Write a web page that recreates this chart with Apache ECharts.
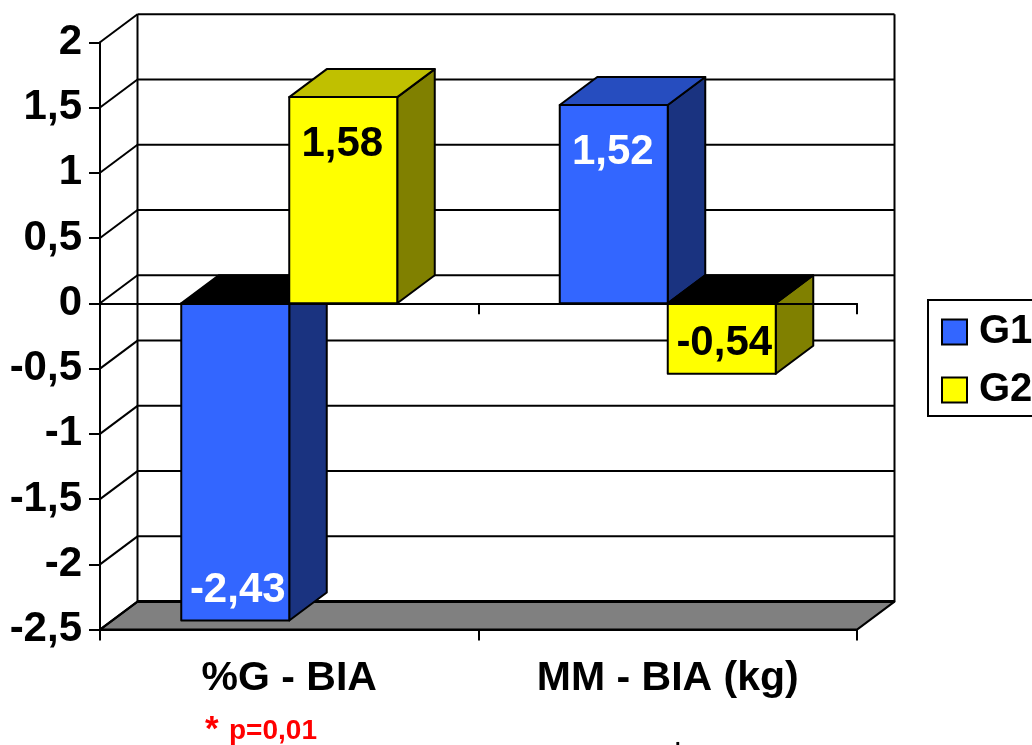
<!DOCTYPE html>
<html>
<head>
<meta charset="utf-8">
<style>
html, body { margin: 0; padding: 0; background: #fff; overflow: hidden; }
#chart { width: 1032px; height: 745px; }
</style>
<script src="https://cdn.jsdelivr.net/npm/echarts@6/dist/echarts.min.js"></script>
</head>
<body>
<div id="chart"></div>
<script>
var categories = ['%G - BIA', 'MM - BIA (kg)'];
var g1Values = [-2.43, 1.52];
var g2Values = [1.58, -0.54];
var yTicks = [-2.5, -2, -1.5, -1, -0.5, 0, 0.5, 1, 1.5, 2];

var FONT = '"Liberation Sans", Arial, sans-serif';
// 3d depth of the excel style box
var DX = 37.5, DY = -28;
var BAR_W = 108;
var BLUE = ['#3366ff', '#1a3380', '#264dbf'];
var YELLOW = ['#ffff00', '#808000', '#c0c000'];

var chart = echarts.init(document.getElementById('chart'));

function comma(v) {
    return String(v).replace('.', ',');
}

function poly(pts, fill) {
    return {
        type: 'polygon',
        shape: { points: pts },
        style: { fill: fill, stroke: '#000', lineWidth: 2, lineJoin: 'round' }
    };
}

function line(x1, y1, x2, y2, lw) {
    return {
        type: 'line',
        shape: { x1: x1, y1: y1, x2: x2, y2: y2 },
        style: { stroke: '#000', lineWidth: lw || 2 }
    };
}

// back wall, left wall and floor, one item per tick
function renderWall(params, api) {
    var cs = params.coordSys;
    var v = api.value(1);
    var y = api.coord([0, v])[1];
    var kids = [];
    if (v === yTicks[0]) {
        kids.push(poly([[cs.x, y], [cs.x + cs.width, y], [cs.x + cs.width + DX, y + DY], [cs.x + DX, y + DY]], '#808080'));
        kids.push(line(cs.x + DX, y + DY, cs.x + cs.width + DX, y + DY, 3));
    } else {
        kids.push(line(cs.x + DX, y + DY, cs.x + cs.width + DX, y + DY));
    }
    kids.push(line(cs.x, y, cs.x + DX, y + DY));
    if (v === yTicks[yTicks.length - 1]) {
        var bottom = api.coord([0, yTicks[0]])[1];
        kids.push(line(cs.x + DX, y + DY, cs.x + DX, bottom + DY));
        kids.push(line(cs.x + cs.width + DX, y + DY, cs.x + cs.width + DX, bottom + DY));
    }
    return { type: 'group', children: kids };
}

function barRenderer(offset, colors, labelColor) {
    return function (params, api) {
        var v = api.value(1);
        var cx = api.coord([api.value(0), 0])[0];
        var y0 = api.coord([0, 0])[1];
        var y1 = api.coord([0, v])[1];
        var l = cx + offset * BAR_W, r = l + BAR_W;
        var top = Math.min(y0, y1), bottom = Math.max(y0, y1);
        return {
            type: 'group',
            children: [
                poly([[r, top], [r + DX, top + DY], [r + DX, bottom + DY], [r, bottom]], colors[1]),
                poly([[l, top], [l + DX, top + DY], [r + DX, top + DY], [r, top]], v < 0 ? '#000' : colors[2]),
                poly([[l, top], [r, top], [r, bottom], [l, bottom]], colors[0]),
                {
                    type: 'text',
                    z2: 10,
                    style: {
                        x: (l + r) / 2 + (v < 0 ? 2.5 : -1),
                        y: v < 0 ? bottom - 30 : top + 47,
                        text: comma(v),
                        fill: labelColor,
                        font: 'bold 42px ' + FONT,
                        align: 'center',
                        verticalAlign: 'middle'
                    }
                }
            ]
        };
    };
}

function pairs(arr) {
    return arr.map(function (v, i) { return [i, v]; });
}

chart.setOption({
    animation: false,
    backgroundColor: '#fff',
    grid: { left: 100, right: 175, top: 42.3, bottom: 115.4 },
    xAxis: [{
        type: 'category',
        data: categories,
        z: 5,
        axisLine: { onZero: false, lineStyle: { color: '#000', width: 2 } },
        axisTick: { show: true, alignWithLabel: false, length: 11, lineStyle: { color: '#000', width: 2 } },
        axisLabel: { color: '#000', fontFamily: FONT, fontWeight: 'bold', fontSize: 41, margin: 29, interval: 0 }
    }, {
        type: 'category',
        data: categories,
        position: 'bottom',
        z: 5,
        axisLine: { onZero: true, lineStyle: { color: '#000', width: 2 } },
        axisTick: { show: true, alignWithLabel: false, length: 11, lineStyle: { color: '#000', width: 2 } },
        axisLabel: { show: false }
    }],
    yAxis: {
        type: 'value',
        min: -2.5,
        max: 2,
        interval: 0.5,
        z: 5,
        splitLine: { show: false },
        axisLine: { show: true, lineStyle: { color: '#000', width: 2 } },
        axisTick: { show: true, length: 11, lineStyle: { color: '#000', width: 2 } },
        axisLabel: { color: '#000', fontFamily: FONT, fontWeight: 'bold', fontSize: 42, margin: 18, padding: [6, 0, 0, 0], formatter: comma }
    },
    legend: {
        orient: 'vertical',
        left: 928,
        top: 300,
        padding: [12, 60, 6, 13],
        itemGap: 18,
        itemWidth: 25,
        itemHeight: 25,
        borderColor: '#000',
        borderWidth: 2,
        icon: 'rect',
        textStyle: { color: '#000', fontFamily: FONT, fontWeight: 'bold', fontSize: 40, padding: [0, 0, 0, 7] },
        data: [
            { name: 'G1', itemStyle: { color: BLUE[0], borderColor: '#000', borderWidth: 2 } },
            { name: 'G2', itemStyle: { color: YELLOW[0], borderColor: '#000', borderWidth: 2 } }
        ]
    },
    graphic: [
        { type: 'text', left: 205, top: 713, silent: true, style: { text: '*', fill: '#f00', font: 'bold 35px ' + FONT } },
        { type: 'text', left: 229, top: 717, silent: true, style: { text: 'p=0,01', fill: '#f00', font: 'bold 28px ' + FONT } },
        { type: 'text', left: 675, top: 729, silent: true, style: { text: '.', fill: '#000', font: 'bold 20px ' + FONT } }
    ],
    series: [{
        name: 'walls',
        type: 'custom',
        z: 1,
        clip: false,
        silent: true,
        renderItem: renderWall,
        data: yTicks.map(function (t) { return [0, t]; })
    }, {
        name: 'G1',
        type: 'custom',
        z: 2,
        clip: false,
        itemStyle: { color: BLUE[0] },
        renderItem: barRenderer(-1, BLUE, '#fff'),
        data: pairs(g1Values)
    }, {
        name: 'G2',
        type: 'custom',
        z: 3,
        clip: false,
        itemStyle: { color: YELLOW[0] },
        renderItem: barRenderer(0, YELLOW, '#000'),
        data: pairs(g2Values)
    }]
});

window.onresize = function () {
    chart.resize();
};
</script>
</body>
</html>
